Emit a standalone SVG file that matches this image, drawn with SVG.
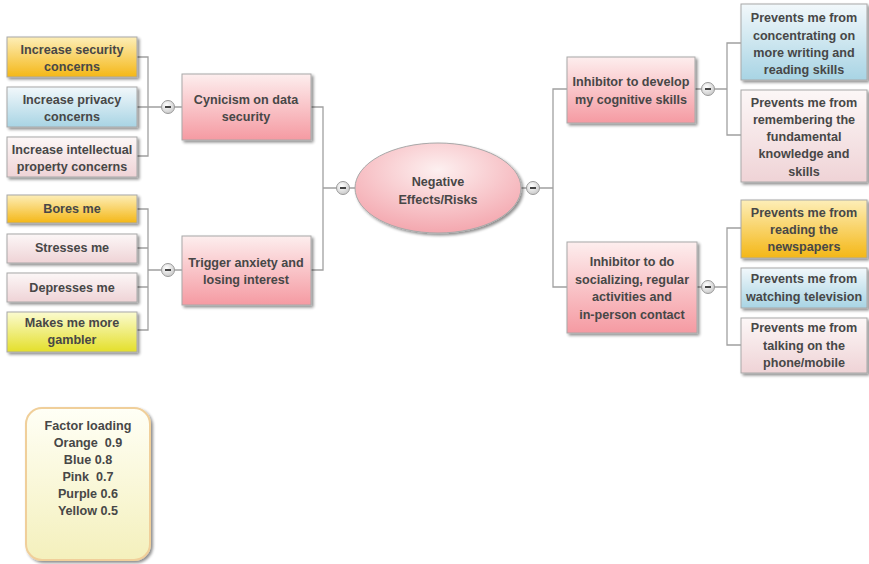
<svg xmlns="http://www.w3.org/2000/svg" width="869" height="564" viewBox="0 0 869 564">
  <defs>
    <linearGradient id="gOrange" x1="0" y1="0" x2="0" y2="1">
      <stop offset="0" stop-color="#fdeeb8"/>
      <stop offset="1" stop-color="#f4b716"/>
    </linearGradient>
    <linearGradient id="gBlue" x1="0" y1="0" x2="0" y2="1">
      <stop offset="0" stop-color="#f2f8fb"/>
      <stop offset="1" stop-color="#a8d4e4"/>
    </linearGradient>
    <linearGradient id="gPink" x1="0" y1="0" x2="0" y2="1">
      <stop offset="0" stop-color="#fcf7f7"/>
      <stop offset="1" stop-color="#efd3d6"/>
    </linearGradient>
    <linearGradient id="gYellow" x1="0" y1="0" x2="0" y2="1">
      <stop offset="0" stop-color="#fbfbd0"/>
      <stop offset="1" stop-color="#e4df2a"/>
    </linearGradient>
    <linearGradient id="gRed" x1="0" y1="0" x2="0" y2="1">
      <stop offset="0" stop-color="#fdeeee"/>
      <stop offset="1" stop-color="#f59aa2"/>
    </linearGradient>
    <radialGradient id="gCore" cx="0.5" cy="0.3" r="0.75">
      <stop offset="0" stop-color="#fdf0f0"/>
      <stop offset="1" stop-color="#f3a2aa"/>
    </radialGradient>
    <linearGradient id="gLegend" x1="0" y1="0" x2="0" y2="1">
      <stop offset="0" stop-color="#fffff6"/>
      <stop offset="1" stop-color="#f4f0bc"/>
    </linearGradient>
    <radialGradient id="gToggle" cx="0.4" cy="0.35" r="0.7">
      <stop offset="0" stop-color="#ffffff"/>
      <stop offset="1" stop-color="#c8c8c8"/>
    </radialGradient>
    <filter id="shadow" x="-10%" y="-10%" width="125%" height="130%">
      <feGaussianBlur in="SourceAlpha" stdDeviation="1.5"/>
      <feOffset dx="2" dy="2" result="b"/>
      <feComponentTransfer><feFuncA type="linear" slope="0.45"/></feComponentTransfer>
      <feMerge><feMergeNode/><feMergeNode in="SourceGraphic"/></feMerge>
    </filter>
  </defs>
  <style>
    .box { stroke: #a8a8a8; stroke-width: 1; filter: url(#shadow); }
    .lbl { font-family: "Liberation Sans", Arial, sans-serif; font-weight: bold; font-size: 12.6px; fill: #474747; text-anchor: middle; white-space: pre; }
    .wire { fill: none; stroke: #a0a0a0; stroke-width: 1.3; }
    .tg circle { fill: url(#gToggle); stroke: #9a9a9a; stroke-width: 1; }
    .tg line { stroke: #444; stroke-width: 2; }
  </style>

  <g id="connectors">
    <!-- left security branch -->
    <path class="wire" d="M137,57 H148 V156 H137 M137,107 H182"/>
    <!-- left anxiety branch -->
    <path class="wire" d="M137,209 H148 V330 H137 M137,248 H148 M137,287 H148 M148,270 H182"/>
    <!-- trunk left -->
    <path class="wire" d="M311,107 H323 V270 H311 M323,188 H356"/>
    <!-- trunk right -->
    <path class="wire" d="M521,188 H553 M567,89 H553 V287 H567"/>
    <!-- right cognitive branch -->
    <path class="wire" d="M695,89 H727 M741,43 H727 V135 H741"/>
    <!-- right social branch -->
    <path class="wire" d="M697,287 H727 M741,228 H727 V345 H741"/>
  </g>

  <g id="toggles">
    <g class="tg"><circle cx="168" cy="107" r="6.5"/><line x1="165" y1="107" x2="171" y2="107"/></g>
    <g class="tg"><circle cx="168" cy="270" r="6.5"/><line x1="165" y1="270" x2="171" y2="270"/></g>
    <g class="tg"><circle cx="343" cy="188" r="6.5"/><line x1="340" y1="188" x2="346" y2="188"/></g>
    <g class="tg"><circle cx="533" cy="188" r="6.5"/><line x1="530" y1="188" x2="536" y2="188"/></g>
    <g class="tg"><circle cx="708" cy="89" r="6.5"/><line x1="705" y1="89" x2="711" y2="89"/></g>
    <g class="tg"><circle cx="708" cy="287" r="6.5"/><line x1="705" y1="287" x2="711" y2="287"/></g>
  </g>

  <g id="core">
    <ellipse class="box" cx="438" cy="188" rx="83" ry="45" fill="url(#gCore)"/>
    <text class="lbl" x="438" y="186">Negative</text>
    <text class="lbl" x="438" y="204">Effects/Risks</text>
  </g>

  <g id="cynicism">
    <rect class="box" x="182" y="74" width="129" height="66" fill="url(#gRed)"/>
    <text class="lbl" x="246" y="104">Cynicism on data</text>
    <text class="lbl" x="246" y="121">security</text>
  </g>
  <g id="security">
    <rect class="box" x="7" y="37" width="130" height="40" fill="url(#gOrange)"/>
    <text class="lbl" x="72" y="54">Increase security</text>
    <text class="lbl" x="72" y="71">concerns</text>
  </g>
  <g id="privacy">
    <rect class="box" x="7" y="87" width="130" height="40" fill="url(#gBlue)"/>
    <text class="lbl" x="72" y="104">Increase privacy</text>
    <text class="lbl" x="72" y="121">concerns</text>
  </g>
  <g id="intellectual">
    <rect class="box" x="7" y="137" width="130" height="40" fill="url(#gPink)"/>
    <text class="lbl" x="72" y="154">Increase intellectual</text>
    <text class="lbl" x="72" y="171">property concerns</text>
  </g>

  <g id="anxiety">
    <rect class="box" x="182" y="236" width="129" height="69" fill="url(#gRed)"/>
    <text class="lbl" x="246" y="267">Trigger anxiety and</text>
    <text class="lbl" x="246" y="284">losing interest</text>
  </g>
  <g id="bores">
    <rect class="box" x="7" y="195" width="130" height="28" fill="url(#gOrange)"/>
    <text class="lbl" x="72" y="213">Bores me</text>
  </g>
  <g id="stresses">
    <rect class="box" x="7" y="234" width="130" height="29" fill="url(#gPink)"/>
    <text class="lbl" x="72" y="252">Stresses me</text>
  </g>
  <g id="depresses">
    <rect class="box" x="7" y="273" width="130" height="29" fill="url(#gPink)"/>
    <text class="lbl" x="72" y="292">Depresses me</text>
  </g>
  <g id="gambler">
    <rect class="box" x="7" y="312" width="130" height="40" fill="url(#gYellow)"/>
    <text class="lbl" x="72" y="327">Makes me more</text>
    <text class="lbl" x="72" y="344">gambler</text>
  </g>

  <g id="cognitive">
    <rect class="box" x="567" y="57" width="128" height="66" fill="url(#gRed)"/>
    <text class="lbl" x="631" y="86">Inhibitor to develop</text>
    <text class="lbl" x="631" y="104">my cognitive skills</text>
  </g>
  <g id="concentrating">
    <rect class="box" x="741" y="4" width="126" height="76" fill="url(#gBlue)"/>
    <text class="lbl" x="804" y="22">Prevents me from</text>
    <text class="lbl" x="804" y="40">concentrating on</text>
    <text class="lbl" x="804" y="57">more writing and</text>
    <text class="lbl" x="804" y="74">reading skills</text>
  </g>
  <g id="remembering">
    <rect class="box" x="741" y="90" width="126" height="92" fill="url(#gPink)"/>
    <text class="lbl" x="804" y="107">Prevents me from</text>
    <text class="lbl" x="804" y="124">remembering the</text>
    <text class="lbl" x="804" y="141">fundamental</text>
    <text class="lbl" x="804" y="158">knowledge and</text>
    <text class="lbl" x="804" y="176">skills</text>
  </g>

  <g id="social">
    <rect class="box" x="567" y="242" width="130" height="91" fill="url(#gRed)"/>
    <text class="lbl" x="632" y="266">Inhibitor to do</text>
    <text class="lbl" x="632" y="284">socializing, regular</text>
    <text class="lbl" x="632" y="301">activities and</text>
    <text class="lbl" x="632" y="319">in-person contact</text>
  </g>
  <g id="newspapers">
    <rect class="box" x="741" y="200" width="126" height="58" fill="url(#gOrange)"/>
    <text class="lbl" x="804" y="217">Prevents me from</text>
    <text class="lbl" x="804" y="234">reading the</text>
    <text class="lbl" x="804" y="251">newspapers</text>
  </g>
  <g id="television">
    <rect class="box" x="741" y="268" width="126" height="40" fill="url(#gBlue)"/>
    <text class="lbl" x="804" y="283">Prevents me from</text>
    <text class="lbl" x="804" y="301">watching television</text>
  </g>
  <g id="phone">
    <rect class="box" x="741" y="318" width="126" height="55" fill="url(#gPink)"/>
    <text class="lbl" x="804" y="332">Prevents me from</text>
    <text class="lbl" x="804" y="350">talking on the</text>
    <text class="lbl" x="804" y="367">phone/mobile</text>
  </g>

  <g id="legend">
    <rect x="26" y="408" width="124" height="152" rx="16" ry="16" fill="url(#gLegend)" stroke="#f0cf9a" stroke-width="2" filter="url(#shadow)"/>
    <text class="lbl" x="88" y="430">Factor loading</text>
    <text class="lbl" x="88" y="447">Orange  0.9</text>
    <text class="lbl" x="88" y="464">Blue 0.8</text>
    <text class="lbl" x="88" y="481">Pink  0.7</text>
    <text class="lbl" x="88" y="498">Purple 0.6</text>
    <text class="lbl" x="88" y="515">Yellow 0.5</text>
  </g>
</svg>
